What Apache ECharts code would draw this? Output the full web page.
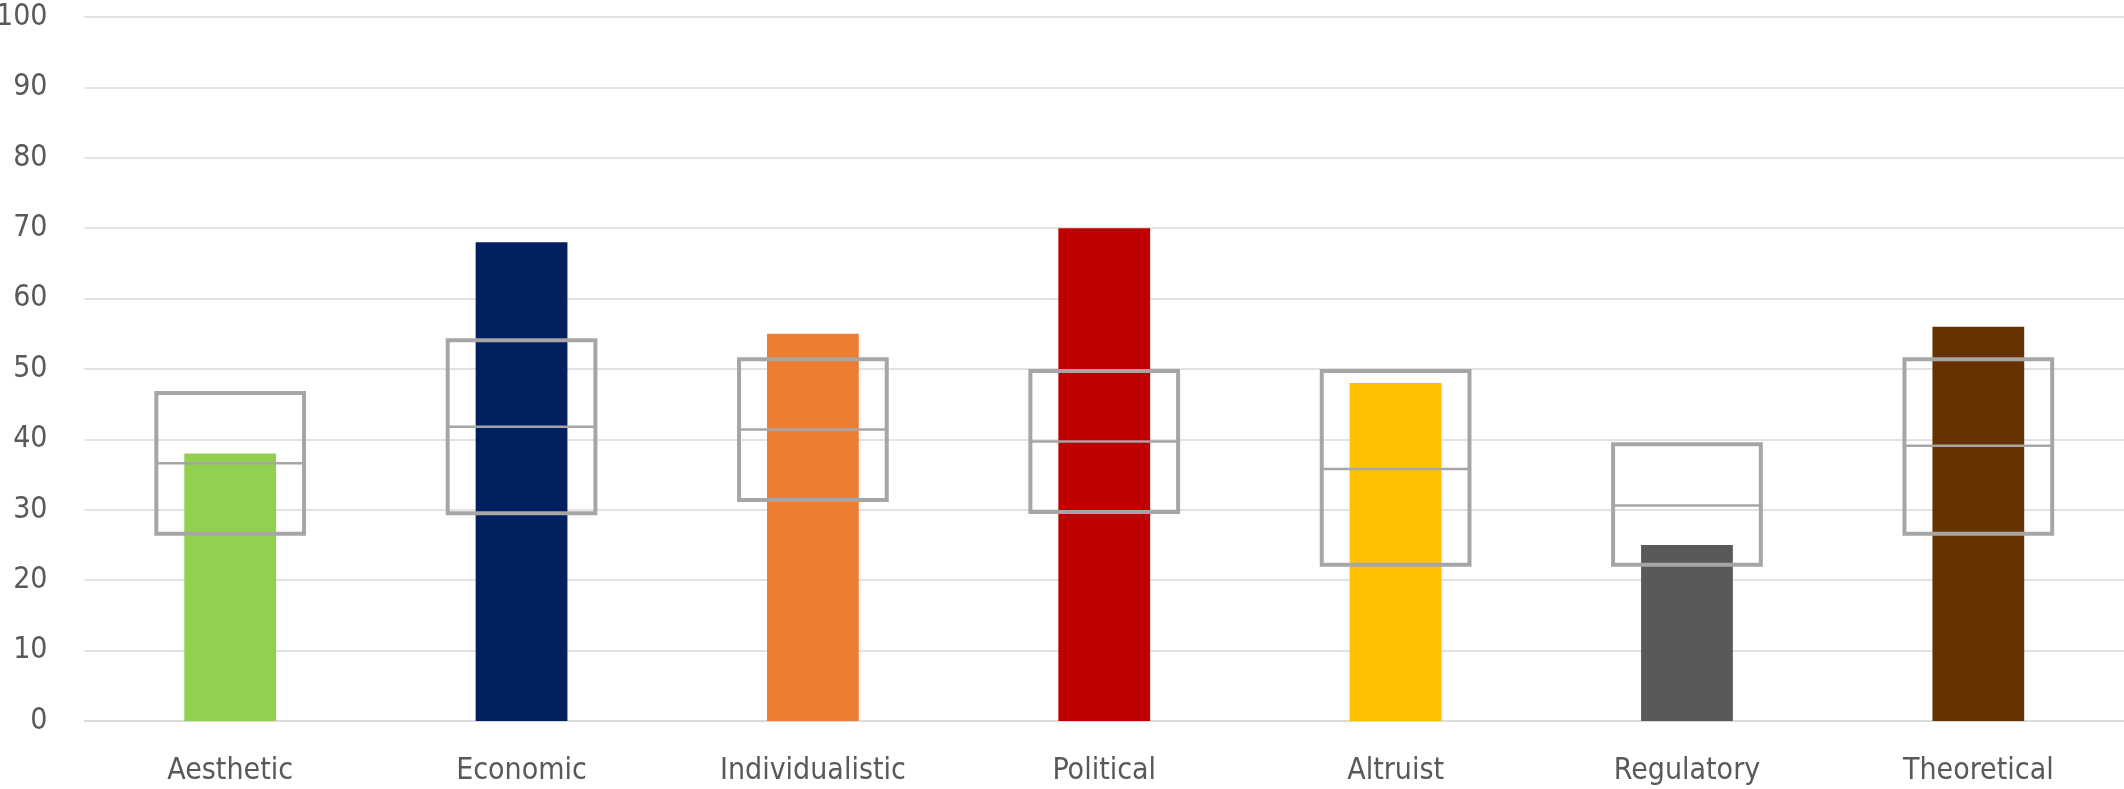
<!DOCTYPE html>
<html>
<head>
<meta charset="utf-8">
<script src="https://cdn.jsdelivr.net/npm/echarts@6/dist/echarts.min.js"></script>
<style>
  html, body { margin: 0; padding: 0; background: #fff; }
  #chart { width: 2124px; height: 789px; }
</style>
</head>
<body>
<div id="chart"></div>
<script>
// categories and values
const categories = ["Aesthetic", "Economic", "Individualistic", "Political", "Altruist", "Regulatory", "Theoretical"];
const scores = [38, 68, 55, 70, 48, 25, 56];
const barColors = ["#92D050", "#002060", "#ED7D31", "#C00000", "#FFC000", "#595959", "#663300"];

// range boxes: low / middle / high
const boxLow = [26.6, 29.5, 31.4, 29.7, 22.2, 22.2, 26.6];
const boxMid = [36.6, 41.8, 41.4, 39.7, 35.8, 30.6, 39.1];
const boxHigh = [46.6, 54.1, 51.4, 49.7, 49.7, 39.3, 51.4];

const FONT = "'DejaVu Sans Condensed', 'Liberation Sans Narrow', sans-serif";

const chart = echarts.init(document.getElementById("chart"));

const boxData = categories.map((c, i) => [i, boxLow[i], boxMid[i], boxHigh[i]]);

// draws the grey box with its middle line
const renderBox = (params, api) => {
  const idx = api.value(0);
  const low = api.coord([idx, api.value(1)]);
  const mid = api.coord([idx, api.value(2)]);
  const high = api.coord([idx, api.value(3)]);
  const w = api.size([1, 0])[0] * 0.507;
  const x0 = low[0] - w / 2;
  return {
    type: "group",
    children: [
      {
        type: "rect",
        shape: { x: x0, y: high[1], width: w, height: low[1] - high[1] },
        style: { fill: null, stroke: "#A6A6A6", lineWidth: 4 },
      },
      {
        type: "line",
        shape: { x1: x0, y1: mid[1], x2: x0 + w, y2: mid[1] },
        style: { stroke: "#A6A6A6", lineWidth: 2.5 },
      },
    ],
  };
};

chart.setOption({
  animation: false,
  grid: {
    left: 84.5,
    right: 0,
    top: 17,
    bottom: 68,
    containLabel: false,
    outerBoundsMode: "none",
  },
  xAxis: {
    type: "category",
    data: categories,
    axisLine: { show: true, lineStyle: { color: "#D9D9D9", width: 1.5 } },
    axisTick: { show: false },
    axisLabel: { color: "#595959", fontFamily: FONT, fontSize: 30, margin: 35 },
  },
  yAxis: {
    type: "value",
    min: 0,
    max: 100,
    interval: 10,
    axisLine: { show: false },
    axisTick: { show: false },
    splitLine: { lineStyle: { color: "#D9D9D9", width: 1.5 } },
    axisLabel: { color: "#595959", fontFamily: FONT, fontSize: 30, margin: 37 },
  },
  series: [
    {
      type: "bar",
      barWidth: "31.5%",
      data: scores.map((v, i) => ({ value: v, itemStyle: { color: barColors[i] } })),
      z: 2,
    },
    {
      type: "custom",
      renderItem: renderBox,
      data: boxData,
      encode: { x: 0, y: [1, 2, 3] },
      z: 3,
    },
  ],
});
</script>
</body>
</html>
